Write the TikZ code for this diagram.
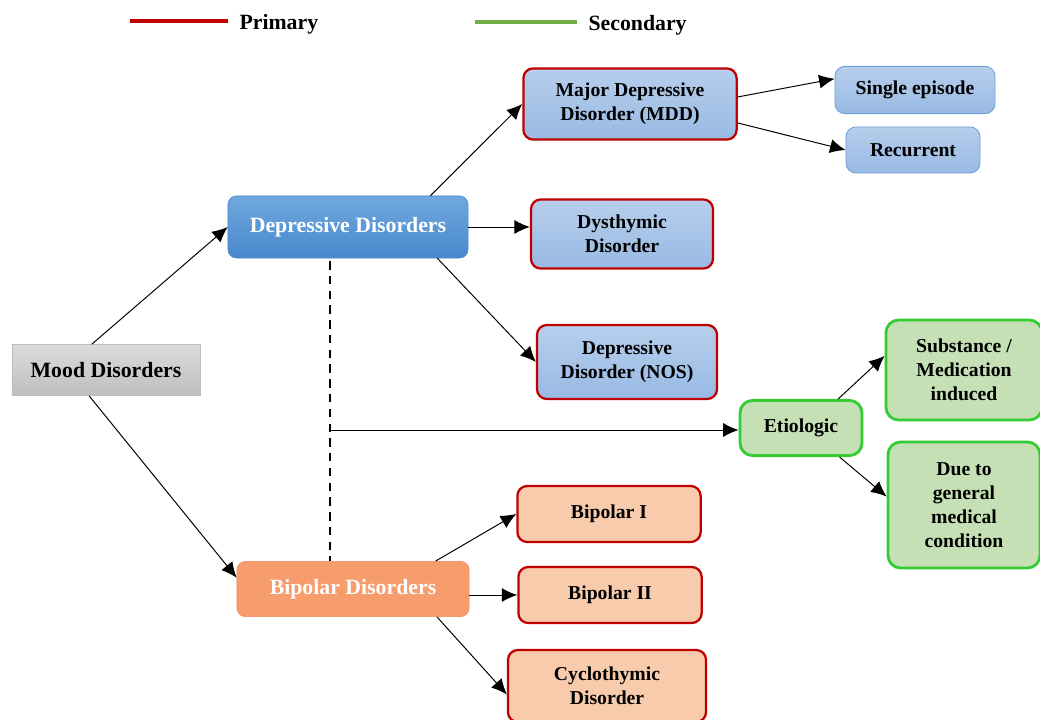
\documentclass[tikz,border=0pt]{standalone}
\usepackage{fontspec}
\setmainfont{Liberation Serif}
\usetikzlibrary{arrows.meta,positioning}
\definecolor{primred}{RGB}{192,0,0}
\definecolor{secgreen}{RGB}{112,173,71}
\definecolor{etigreen}{RGB}{51,204,51}
\definecolor{softgreen}{RGB}{197,224,180}
\definecolor{depblue}{RGB}{91,155,213}
\definecolor{depbluetop}{RGB}{112,168,222}
\definecolor{depbluebot}{RGB}{72,136,204}
\definecolor{softbluetop}{RGB}{183,206,236}
\definecolor{softbluebot}{RGB}{152,186,228}
\definecolor{boxblue}{RGB}{110,160,214}
\definecolor{biporange}{RGB}{247,156,108}
\definecolor{softorange}{RGB}{248,203,173}
\definecolor{graytop}{RGB}{220,220,220}
\definecolor{graybot}{RGB}{190,190,190}

\begin{document}
\begin{tikzpicture}[
    x=0.025cm, y=-0.025cm,
    font=\bfseries\fontsize{14}{17}\selectfont,
    box/.style={
        rectangle,
        rounded corners=7pt,
        align=center,
        inner sep=3pt
    },
    mainbox/.style={
        box,
        rounded corners=6pt,
        font=\bfseries\fontsize{15.5}{18}\selectfont,
        text=white
    },
    primbox/.style={
        box,
        draw=primred,
        line width=1.6pt
    },
    subbox/.style={
        box,
        draw=boxblue,
        line width=0.6pt,
        top color=softbluetop,
        bottom color=softbluebot
    },
    secbox/.style={
        box,
        rounded corners=9pt,
        draw=etigreen,
        line width=2pt,
        fill=softgreen
    },
    arrow/.style={-{Latex[length=11pt,width=10pt]}, line width=0.7pt, draw=black},
    dashedline/.style={line width=1.5pt, dash pattern=on 6pt off 4.5pt},
    legendline/.style={line width=2.2pt},
    legendtext/.style={inner sep=0pt, yshift=-2pt, font=\bfseries\fontsize{15.5}{18}\selectfont}
]
\useasboundingbox (0,0) rectangle (1040,720);

% Legend
\coordinate (primA) at (130,21);
\coordinate (primB) at (228,21);
\draw[legendline, draw=primred] (primA) -- (primB);
\node[legendtext, right=8pt of primB] (primlabel) {Primary};

\coordinate (secA) at (475,22);
\coordinate (secB) at (577,22);
\draw[legendline, draw=secgreen] (secA) -- (secB);
\node[legendtext, right=8pt of secB] (seclabel) {Secondary};

% Main modules
\node[box, rounded corners=0pt, draw=graybot, line width=0.4pt, top color=graytop, bottom color=graybot,
      font=\bfseries\fontsize{15.5}{18}\selectfont, minimum width=4.7cm, minimum height=1.28cm] (mood) at (106,370)
    {Mood Disorders};

\node[mainbox, draw=depbluebot, line width=0.4pt, top color=depbluetop, bottom color=depbluebot,
      minimum width=6cm, minimum height=1.55cm] (dep) at (348,227)
    {Depressive Disorders};

\node[mainbox, draw=biporange!85!red, line width=0.4pt, fill=biporange,
      minimum width=5.8cm, minimum height=1.38cm] (bip) at (353,589)
    {Bipolar Disorders};

% Depressive branch
\node[primbox, top color=softbluetop, bottom color=softbluebot, minimum width=5.33cm, minimum height=1.78cm] (mdd) at (630,104)
    {Major Depressive\\Disorder (MDD)};

\node[subbox, minimum width=4cm, minimum height=1.18cm] (single) at (915,90)
    {Single episode};

\node[subbox, minimum width=3.35cm, minimum height=1.15cm] (recurrent) at (913,150)
    {Recurrent};

\node[primbox, top color=softbluetop, bottom color=softbluebot, minimum width=4.55cm, minimum height=1.73cm] (dys) at (622,234)
    {Dysthymic\\Disorder};

\node[primbox, top color=softbluetop, bottom color=softbluebot, minimum width=4.5cm, minimum height=1.85cm] (nos) at (627,362)
    {Depressive\\Disorder (NOS)};

% Bipolar branch
\node[primbox, fill=softorange, minimum width=4.58cm, minimum height=1.4cm] (bipone) at (609,514)
    {Bipolar I};

\node[primbox, fill=softorange, minimum width=4.58cm, minimum height=1.4cm] (biptwo) at (610,595)
    {Bipolar II};

\node[primbox, fill=softorange, minimum width=4.95cm, minimum height=1.8cm] (cyclo) at (607,686)
    {Cyclothymic\\Disorder};

% Etiologic branch
\node[secbox, minimum width=3.05cm, minimum height=1.38cm] (eti) at (801,428)
    {Etiologic};

\node[secbox, minimum width=3.9cm, minimum height=2.5cm] (subst) at (964,370)
    {Substance /\\Medication\\induced};

\node[secbox, minimum width=3.8cm, minimum height=3.15cm] (general) at (964,505)
    {Due to\\general\\medical\\condition};

% Connectors
\draw[arrow] ([xshift=-10pt]mood.north) -- (dep.west);
\draw[arrow] ([xshift=-12pt]mood.south) -- ([yshift=8pt]bip.west);

\draw[arrow] ([xshift=-27pt]dep.north east) -- (mdd.west);
\draw[arrow] (dep.east) -- (dep.east -| dys.west);
\draw[arrow] ([xshift=-22pt]dep.south east) -- (nos.west);

\draw[arrow] ([yshift=5pt]mdd.east) -- ([yshift=8pt]single.west);
\draw[arrow] ([yshift=-13.5pt]mdd.east) -- (recurrent.west);

\coordinate (split) at (330,430);
\draw[dashedline] ([yshift=-2pt]split |- dep.south) -- (split |- bip.north);
\draw[arrow] (split) -- (split -| eti.west);

\draw[arrow] ([xshift=-18pt]eti.north east) -- ([yshift=10pt]subst.west);
\draw[arrow] ([xshift=-17pt]eti.south east) -- ([yshift=6pt]general.west);

\draw[arrow] ([xshift=-24pt]bip.north east) -- (bipone.west);
\draw[arrow] (biptwo.west -| bip.east) -- (biptwo.west);
\draw[arrow] ([xshift=-23pt]bip.south east) -- ([yshift=-6pt]cyclo.west);

\end{tikzpicture}
\end{document}
